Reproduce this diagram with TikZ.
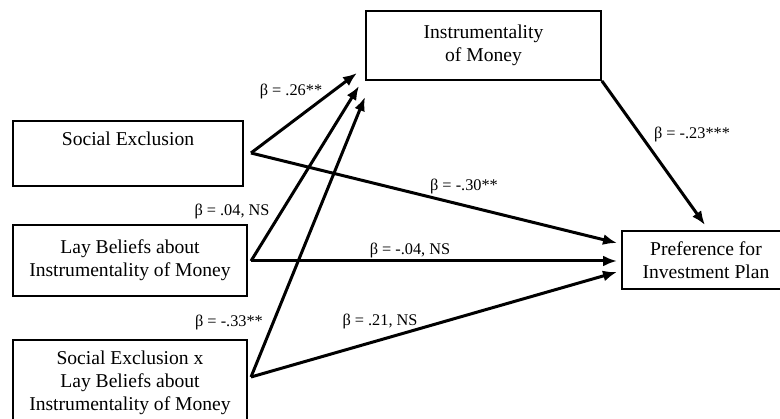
\documentclass[tikz,border=0pt]{standalone}
\usepackage{fontspec}
\setmainfont{Liberation Serif}
\usetikzlibrary{arrows.meta,positioning}

\begin{document}
\begin{tikzpicture}[
        x=1pt, y=-1pt,
        font=\fontsize{19.6}{23}\selectfont,
        var/.style={draw, line width=1.8pt, align=center, inner sep=0pt},
        effect/.style={-{Latex[length=14pt,width=11pt]}, line width=3pt},
        coef/.style={font=\fontsize{16.3}{19}\selectfont, inner sep=1pt}
    ]
    \clip (0,0) rectangle (780,419);
    % variables
    \node[var, minimum width=230pt, minimum height=65pt] (se) at (128,153.5) {Social Exclusion\\ \strut};
    \node[var, minimum width=235pt, minimum height=69pt] (im) at (483.5,45.5) {Instrumentality\\of Money};
    \node[var, minimum width=234pt, minimum height=71pt] (lb) at (130,260.5) {Lay Beliefs about\\Instrumentality of Money};
    \node[var, minimum width=234pt, minimum height=86pt] (sx) at (130,383) {Social Exclusion x\\Lay Beliefs about\\Instrumentality of Money};
    \node[var, minimum width=168pt, minimum height=58pt] (pr) at (706,260) {Preference for\\Investment Plan};
    % arrow ends
    \coordinate (se-out) at (251,153);
    \coordinate (lb-out) at (251,261);
    \coordinate (sx-out) at (251,377);
    \coordinate (im-in1) at (357,73);
    \coordinate (im-in2) at (359,86);
    \coordinate (im-in3) at (365,97);
    \coordinate (pr-in0) at (705,225);
    \coordinate (pr-in1) at (617,243);
    \coordinate (pr-in2) at (617,261);
    \coordinate (pr-in3) at (617,272);
    % paths
    \draw[effect] (se-out) -- (im-in1);
    \draw[effect] (se-out) -- (pr-in1);
    \draw[effect] (lb-out) -- (im-in2);
    \draw[effect] (lb-out) -- (pr-in2);
    \draw[effect] (sx-out) -- (im-in3);
    \draw[effect] (sx-out) -- (pr-in3);
    \draw[effect] (im.south east) -- (pr-in0);
    % coefficients
    \node[coef] (b-se-im) at (291,92) {β = .26**};
    \node[coef] (b-se-pr) at (464,187) {β = -.30**};
    \node[coef] (b-lb-im) at (232,212) {β = .04, NS};
    \node[coef] (b-lb-pr) at (410,250) {β = -.04, NS};
    \node[coef] (b-sx-im) at (229,322) {β = -.33**};
    \node[coef] (b-sx-pr) at (380,321) {β = .21, NS};
    \node[coef] (b-im-pr) at (692,135) {β = -.23***};
\end{tikzpicture}
\end{document}
